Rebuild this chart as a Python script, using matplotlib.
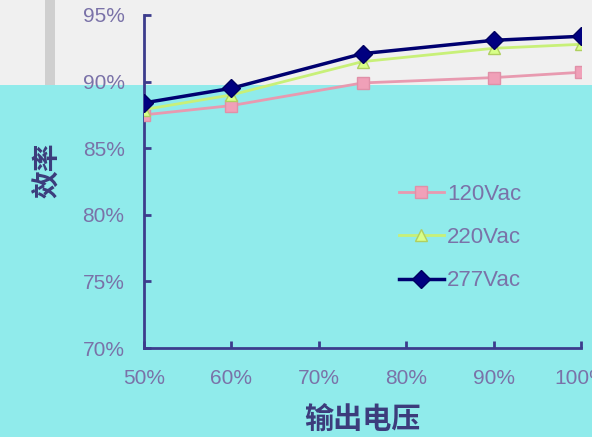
import matplotlib
matplotlib.use("Agg")
import matplotlib.pyplot as plt
from matplotlib.patches import Rectangle
from matplotlib.ticker import FuncFormatter

plt.rcParams['font.family'] = ['Liberation Sans', 'Noto Sans CJK SC', 'DejaVu Sans']

load = [50, 60, 75, 90, 100]
eff_120 = [87.5, 88.2, 89.9, 90.3, 90.7]
eff_220 = [87.9, 89.0, 91.5, 92.5, 92.8]
eff_277 = [88.4, 89.5, 92.1, 93.1, 93.4]
series_names = ['120Vac', '220Vac', '277Vac']
xticks = [50, 60, 70, 80, 90, 100]
yticks = [70, 75, 80, 85, 90, 95]
xlabel = '输出电压'
ylabel = '效率'

W, H = 592, 437
bg = '#90EBEB'
axc = '#3C3C8C'
txtc = '#7A72A8'

fig = plt.figure(figsize=(W/100, H/100), dpi=100, facecolor=bg)
# light top band
fig.patches.append(Rectangle((0, 1-85/H), 1, 85/H, transform=fig.transFigure,
                             facecolor='#F0F0F0', edgecolor='none', zorder=-1))
fig.patches.append(Rectangle((45/W, 1-85/H), 10/W, 85/H, transform=fig.transFigure,
                             facecolor='#CFCFCF', edgecolor='none', zorder=-1))

ax = fig.add_axes([144/W, 1-348/H, (581-144)/W, (348-15)/H])
ax.set_facecolor('none')

ax.plot(load, eff_120, color='#E89AB0', lw=2, marker='s', ms=9,
        markerfacecolor='#F0A0B8', markeredgecolor='#E090A8', label=series_names[0], zorder=3)
ax.plot(load, eff_220, color='#C8F078', lw=2, marker='^', ms=8,
        markerfacecolor='#D8FF88', markeredgecolor='#B0D060', label=series_names[1], zorder=3)
ax.plot(load, eff_277, color='#000070', lw=2.5, marker='D', ms=9,
        markerfacecolor='#000080', markeredgecolor='#000060', label=series_names[2], zorder=4)

ax.set_xlim(50, 100)
ax.set_ylim(70, 95)
ax.set_xticks(xticks)
ax.set_yticks(yticks)
ax.xaxis.set_major_formatter(FuncFormatter(lambda v, p: f'{v:.0f}%'))
ax.yaxis.set_major_formatter(FuncFormatter(lambda v, p: f'{v:.0f}%'))

for s in ['top', 'right']:
    ax.spines[s].set_visible(False)
for s in ['left', 'bottom']:
    ax.spines[s].set_color(axc)
    ax.spines[s].set_linewidth(2)

ax.tick_params(axis='both', direction='in', length=5, width=2, color=axc,
               labelcolor=txtc, labelsize=15)
ax.tick_params(axis='x', pad=15)
ax.tick_params(axis='y', pad=14)

ax.set_xlabel(xlabel, fontsize=21, color='#3C3C7C', fontweight='bold',
              family=['Noto Sans CJK SC'], labelpad=12)
ax.set_ylabel(ylabel, fontsize=20, color='#3C3C7C', fontweight='bold',
              family=['Noto Sans CJK SC'])
ax.yaxis.set_label_coords(-0.188, 0.535)

leg = ax.legend(loc='upper left', bbox_to_anchor=(0.538, 0.553), frameon=False,
                fontsize=16, labelspacing=1.0, handlelength=2.0, handletextpad=0.15)
for t in leg.get_texts():
    t.set_color(txtc)

fig.savefig('out.png', dpi=100, facecolor=bg)
